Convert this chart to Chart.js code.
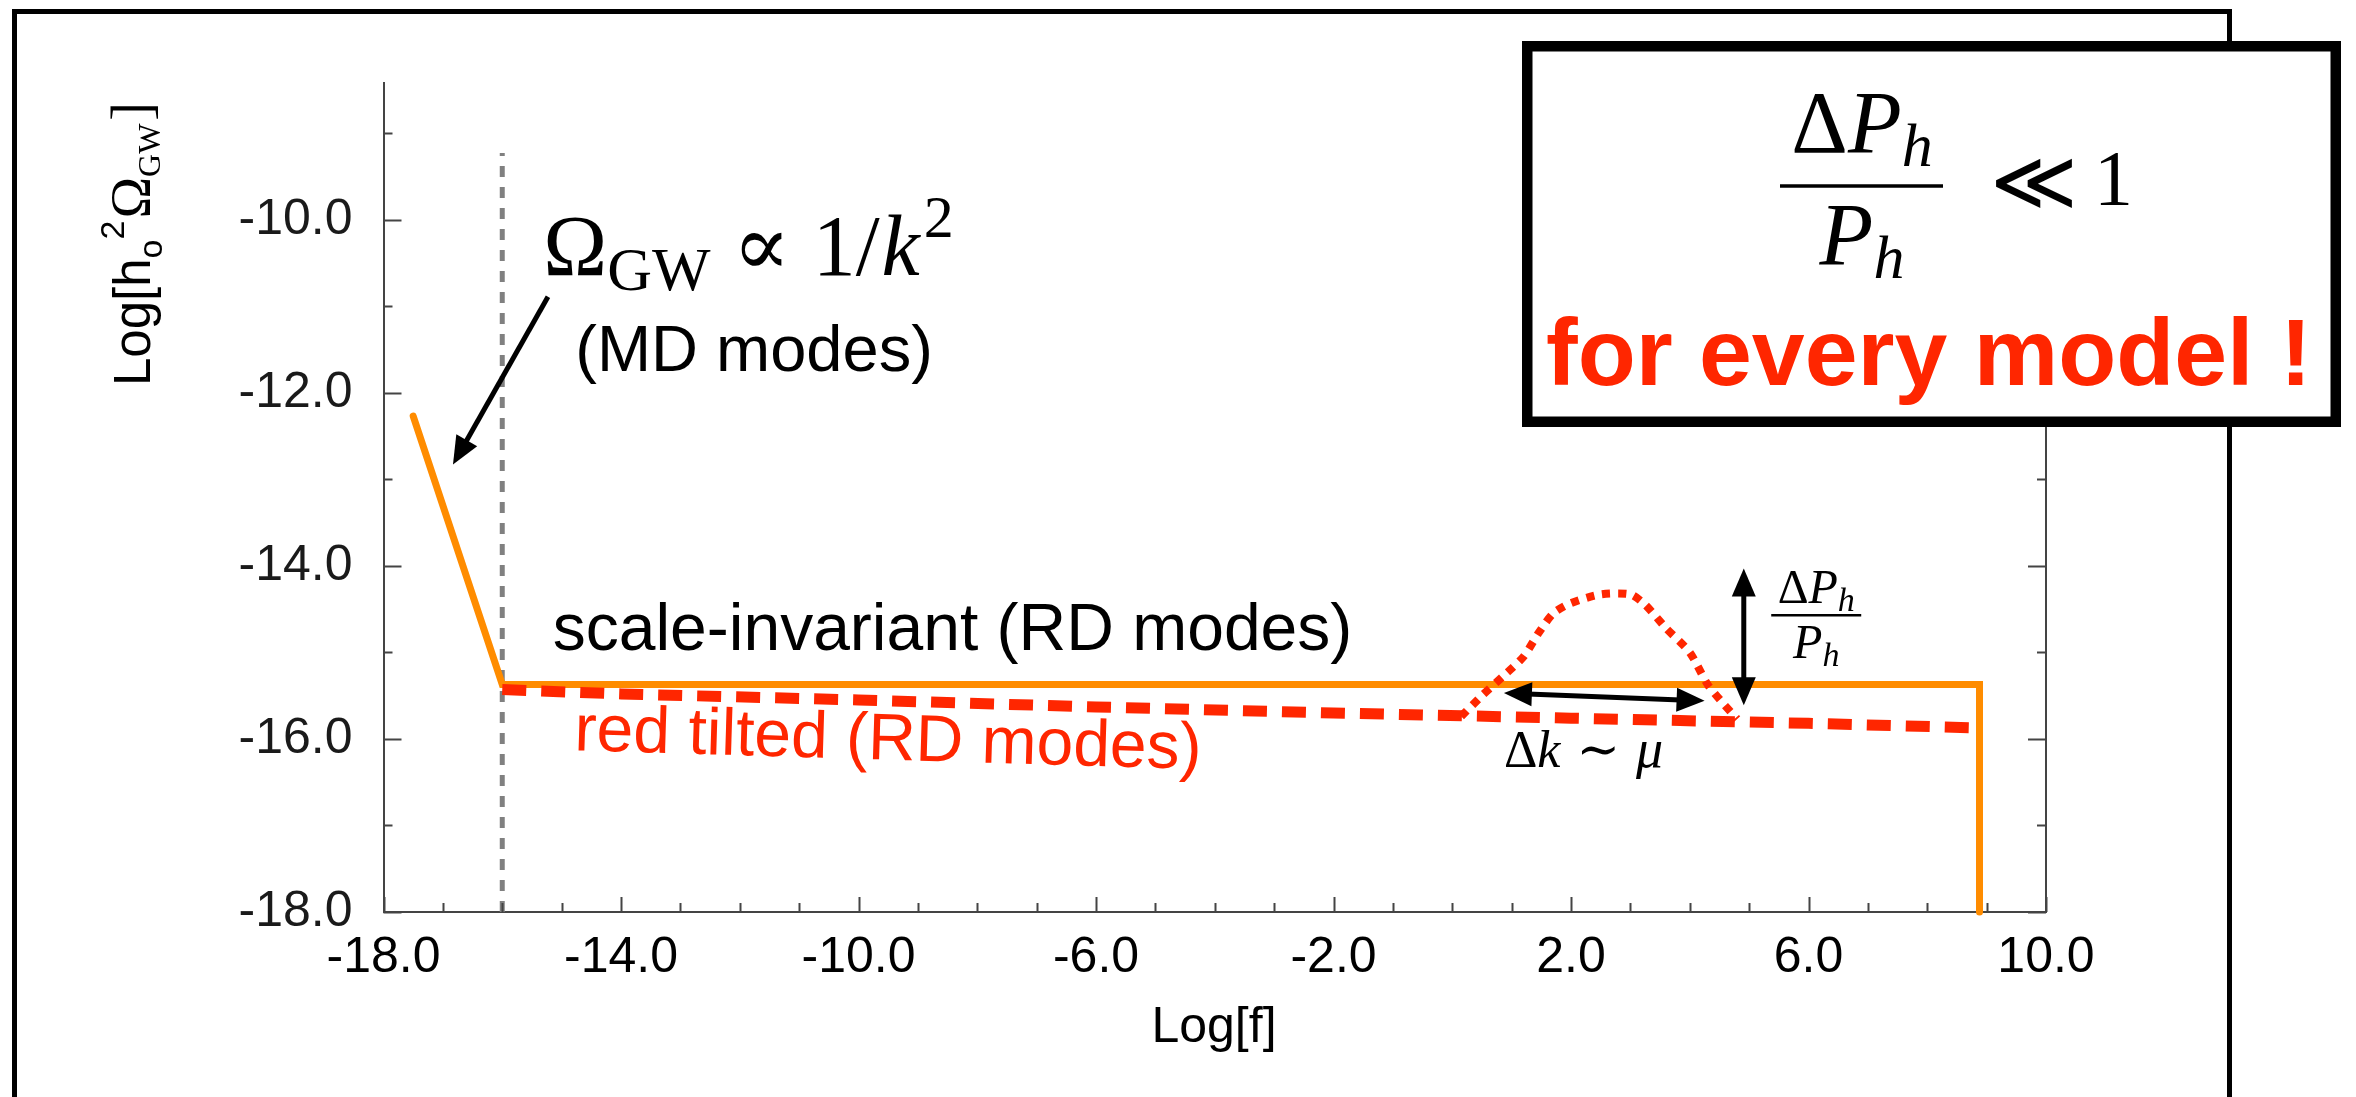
<!DOCTYPE html>
<html>
<head>
<meta charset="utf-8">
<script src="https://cdn.jsdelivr.net/npm/chart.js@4.4.1/dist/chart.umd.min.js"></script>
<style>
    html, body { margin: 0; padding: 0; background: #fff; }
    #wrap { width: 2356px; height: 1097px; position: relative; }
</style>
</head>
<body>
<div id="wrap"><canvas id="gwChart"></canvas></div>
<script>
// axis ranges and labelled ticks
const xMin = -18, xMax = 10;
const yMin = -18, yMax = -8.42;
const xTicks = [-18, -14, -10, -6, -2, 2, 6, 10];
const yTicks = [-18, -16, -14, -12, -10];

// scale-invariant spectrum (orange)
const scaleInvX = [-17.5, -16, 8.88, 8.88];
const scaleInvY = [-12.27, -15.37, -15.37, -18];

// red tilted spectrum (dashed)
const tiltedX = [-16, -14, -10, -6, -2, 2, 6, 8.72];
const tiltedY = [-15.43, -15.48, -15.55, -15.63, -15.70, -15.76, -15.82, -15.87];

// feature on top of the tilted spectrum (dotted)
const bumpX = [0.15, 0.5, 0.85, 1.2, 1.45, 1.7, 2.0, 2.5, 3.0, 3.25, 3.6, 4.0, 4.3, 4.55, 4.8];
const bumpY = [-15.74, -15.5, -15.28, -15.05, -14.78, -14.55, -14.43, -14.33, -14.33, -14.45, -14.72, -15.0, -15.37, -15.58, -15.77];

// MD / RD transition (grey dashed)
const transX = [-16, -16];
const transY = [-18, -9.23];

const ORANGE = '#FF8C00';
const RED = '#FF2600';
const SANS = '"Liberation Sans", Arial, sans-serif';
const SERIF = '"Liberation Serif", "DejaVu Serif", serif';

function toPoints(xs, ys) {
    return xs.map((x, i) => ({ x: x, y: ys[i] }));
}

function arrowHead(ctx, x1, y1, x2, y2, len, half) {
    const a = Math.atan2(y2 - y1, x2 - x1);
    const bx = x2 - len * Math.cos(a), by = y2 - len * Math.sin(a);
    ctx.beginPath();
    ctx.moveTo(x2, y2);
    ctx.lineTo(bx + half * Math.sin(a), by - half * Math.cos(a));
    ctx.lineTo(bx - half * Math.sin(a), by + half * Math.cos(a));
    ctx.closePath();
    ctx.fill();
}

function arrow(ctx, x1, y1, x2, y2, both) {
    const len = 28, half = 12;
    const a = Math.atan2(y2 - y1, x2 - x1);
    const sx = both ? x1 + (len - 4) * Math.cos(a) : x1;
    const sy = both ? y1 + (len - 4) * Math.sin(a) : y1;
    ctx.beginPath();
    ctx.moveTo(sx, sy);
    ctx.lineTo(x2 - (len - 4) * Math.cos(a), y2 - (len - 4) * Math.sin(a));
    ctx.stroke();
    arrowHead(ctx, x1, y1, x2, y2, len, half);
    if (both) arrowHead(ctx, x2, y2, x1, y1, len, half);
}

// draws a row of text pieces one after another
function runs(ctx, x, y, parts) {
    let cx = x;
    parts.forEach(p => {
        ctx.font = p.f;
        ctx.fillText(p.t, cx, y + (p.dy || 0));
        cx += ctx.measureText(p.t).width + (p.gap || 0);
    });
    return cx;
}

function runsWidth(ctx, parts) {
    let w = 0;
    parts.forEach(p => {
        ctx.font = p.f;
        w += ctx.measureText(p.t).width + (p.gap || 0);
    });
    return w;
}

const axisTicks = {
    id: 'axisTicks',
    afterDraw(chart) {
        const { ctx, chartArea: a, scales: { x, y } } = chart;
        ctx.save();
        ctx.strokeStyle = '#444';
        ctx.lineWidth = 2;
        ctx.beginPath();
        for (let v = xMin; v <= xMax; v++) {
            const px = Math.round(x.getPixelForValue(v)) + 0.5;
            const len = (v - xMin) % 4 === 0 ? 15 : 9;
            ctx.moveTo(px, a.bottom);
            ctx.lineTo(px, a.bottom - len);
        }
        for (let v = yMin; v <= Math.floor(yMax); v++) {
            const py = Math.round(y.getPixelForValue(v)) + 0.5;
            const len = v % 2 === 0 ? 18 : 9;
            ctx.moveTo(a.left, py);
            ctx.lineTo(a.left + len, py);
            ctx.moveTo(a.right, py);
            ctx.lineTo(a.right - len, py);
        }
        ctx.stroke();
        ctx.restore();
    }
};

const annotations = {
    id: 'annotations',
    afterDraw(chart) {
        const { ctx, scales: { x, y } } = chart;
        const X = v => x.getPixelForValue(v);
        const Y = v => y.getPixelForValue(v);
        ctx.save();
        ctx.fillStyle = '#000';
        ctx.strokeStyle = '#000';
        ctx.textBaseline = 'alphabetic';
        ctx.textAlign = 'left';

        // axis titles
        ctx.font = '50px ' + SANS;
        ctx.textAlign = 'center';
        ctx.fillText('Log[f]', 1214, 1042);
        ctx.textAlign = 'left';

        ctx.save();
        ctx.translate(150, 386);
        ctx.rotate(-Math.PI / 2);
        runs(ctx, 0, 0, [
            { t: 'Log[h', f: '51px ' + SANS },
            { t: 'o', f: '34px ' + SANS, dy: 12 },
            { t: '2', f: '34px ' + SANS, dy: -26, gap: 2 },
            { t: 'Ω', f: '56px ' + SERIF },
            { t: 'GW', f: '32px ' + SERIF, dy: 10, gap: 3 },
            { t: ']', f: '56px ' + SERIF }
        ]);
        ctx.restore();

        // Omega_GW ~ 1/k^2 note and its arrow
        runs(ctx, X(-15.31), Y(-10.64), [
            { t: 'Ω', f: '86px ' + SERIF },
            { t: 'GW', f: '62px ' + SERIF, dy: 15, gap: 22 },
            { t: '∝', f: '86px ' + SERIF, gap: 22 },
            { t: '1/', f: '86px ' + SERIF, gap: 2 },
            { t: 'k', f: 'italic 86px ' + SERIF, gap: 4 },
            { t: '2', f: '60px ' + SERIF, dy: -38 }
        ]);
        ctx.font = '65px ' + SANS;
        ctx.fillText('(MD modes)', X(-14.77), Y(-11.75));
        ctx.lineWidth = 5;
        arrow(ctx, X(-15.23), Y(-10.89), X(-16.83), Y(-12.83), false);

        // series notes
        ctx.font = '66px ' + SANS;
        ctx.fillText('scale-invariant (RD modes)', X(-15.15), Y(-14.97));
        ctx.save();
        ctx.translate(X(-14.79), Y(-16.13));
        ctx.rotate(0.03);
        ctx.fillStyle = RED;
        ctx.fillText('red tilted (RD modes)', 0, 0);
        ctx.restore();

        // width of the feature
        ctx.lineWidth = 5;
        arrow(ctx, X(0.87), Y(-15.47), X(4.25), Y(-15.56), true);
        runs(ctx, X(0.87), Y(-16.32), [
            { t: 'Δ', f: '52px ' + SERIF },
            { t: 'k', f: 'italic 52px ' + SERIF, gap: 16 },
            { t: '∼', f: '52px ' + SERIF, gap: 16 },
            { t: 'μ', f: 'italic 54px ' + SERIF }
        ]);

        // height of the feature
        arrow(ctx, X(4.91), Y(-14.03), X(4.91), Y(-15.61), true);
        const fx = X(6.13), fy = Y(-14.57);
        const num = [
            { t: 'Δ', f: '48px ' + SERIF },
            { t: 'P', f: 'italic 48px ' + SERIF },
            { t: 'h', f: 'italic 34px ' + SERIF, dy: 8 }
        ];
        const den = [
            { t: 'P', f: 'italic 48px ' + SERIF },
            { t: 'h', f: 'italic 34px ' + SERIF, dy: 8 }
        ];
        runs(ctx, fx - runsWidth(ctx, num) / 2, fy - 12, num);
        runs(ctx, fx - runsWidth(ctx, den) / 2, fy + 43, den);
        ctx.lineWidth = 2.5;
        ctx.beginPath();
        ctx.moveTo(fx - 45, fy);
        ctx.lineTo(fx + 45, fy);
        ctx.stroke();

        // outer frame
        ctx.lineWidth = 5;
        ctx.strokeStyle = '#000';
        ctx.strokeRect(14.5, 11.5, 2215, 1200);

        // box on the top right
        ctx.fillStyle = '#fff';
        ctx.fillRect(1522, 41, 819, 386);
        ctx.lineWidth = 10.5;
        ctx.strokeRect(1527.25, 46.25, 808.5, 375.5);
        ctx.fillStyle = '#000';
        const bx = 1862;
        const bnum = [
            { t: 'Δ', f: '88px ' + SERIF },
            { t: 'P', f: 'italic 88px ' + SERIF },
            { t: 'h', f: 'italic 62px ' + SERIF, dy: 14 }
        ];
        const bden = [
            { t: 'P', f: 'italic 88px ' + SERIF },
            { t: 'h', f: 'italic 62px ' + SERIF, dy: 14 }
        ];
        runs(ctx, bx - runsWidth(ctx, bnum) / 2, 152, bnum);
        runs(ctx, bx - runsWidth(ctx, bden) / 2, 264, bden);
        ctx.lineWidth = 3.5;
        ctx.beginPath();
        ctx.moveTo(1780, 186);
        ctx.lineTo(1943, 186);
        ctx.stroke();
        ctx.font = '84px "DejaVu Serif", serif';
        ctx.fillText('≪', 1990, 210);
        ctx.font = '78px ' + SERIF;
        ctx.fillText('1', 2094, 204);
        ctx.fillStyle = RED;
        ctx.font = 'bold 95px ' + SANS;
        ctx.fillText('for every model !', 1546, 385);

        ctx.restore();
    }
};

const ctx = document.getElementById('gwChart').getContext('2d');
new Chart(ctx, {
    type: 'line',
    data: {
        datasets: [
            {
                label: 'feature',
                data: toPoints(bumpX, bumpY),
                borderColor: RED, borderWidth: 8, borderDash: [8, 8],
                borderCapStyle: 'butt', tension: 0.25, pointRadius: 0, order: 0
            },
            {
                label: 'red tilted',
                data: toPoints(tiltedX, tiltedY),
                borderColor: RED, borderWidth: 11, borderDash: [24, 15],
                tension: 0, pointRadius: 0, order: 1
            },
            {
                label: 'scale-invariant',
                data: toPoints(scaleInvX, scaleInvY),
                borderColor: ORANGE, borderWidth: 7, borderCapStyle: 'round',
                borderJoinStyle: 'miter', tension: 0, pointRadius: 0, order: 2, clip: false
            },
            {
                label: 'transition',
                data: toPoints(transX, transY),
                borderColor: '#808080', borderWidth: 5, borderDash: [11, 10],
                tension: 0, pointRadius: 0, order: 3
            }
        ]
    },
    options: {
        responsive: true,
        maintainAspectRatio: false,
        animation: false,
        layout: { padding: { left: 0, right: 310, top: 83, bottom: 0 } },
        plugins: { legend: { display: false }, tooltip: { enabled: false } },
        scales: {
            x: {
                type: 'linear', position: 'bottom', min: xMin, max: xMax,
                grid: { display: false, drawTicks: false },
                border: { display: true, color: '#444', width: 2 },
                ticks: {
                    color: '#000', padding: 16, maxRotation: 0, autoSkip: false,
                    font: { family: 'Liberation Sans', size: 50 },
                    callback: v => v.toFixed(1)
                },
                afterBuildTicks: s => { s.ticks = xTicks.map(v => ({ value: v })); },
                afterFit: s => { s.height = 185; }
            },
            y: {
                type: 'linear', position: 'left', min: yMin, max: yMax,
                grid: { display: false, drawTicks: false },
                border: { display: true, color: '#444', width: 2 },
                ticks: {
                    color: '#1a1a1a', padding: 31, autoSkip: false,
                    font: { family: 'Liberation Sans', size: 50 },
                    callback: v => v.toFixed(1)
                },
                afterBuildTicks: s => { s.ticks = yTicks.map(v => ({ value: v })); },
                afterFit: s => { s.width = 383.5; }
            },
            y2: {
                type: 'linear', position: 'right', min: yMin, max: yMax,
                grid: { display: false, drawTicks: false },
                border: { display: true, color: '#444', width: 2 },
                ticks: { display: false },
                afterFit: s => { s.width = 0; }
            }
        }
    },
    plugins: [axisTicks, annotations]
});
</script>
</body>
</html>
